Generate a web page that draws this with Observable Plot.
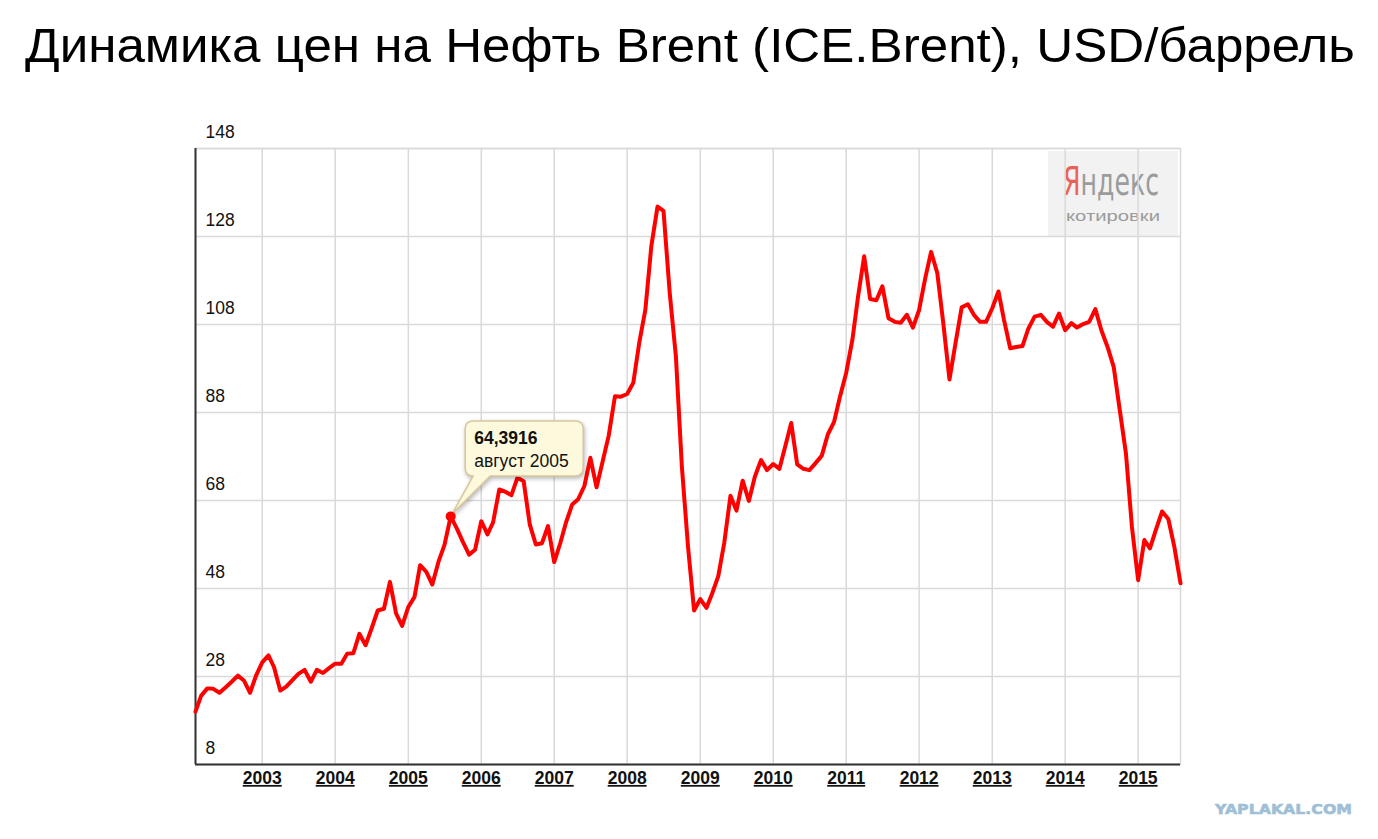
<!DOCTYPE html>
<html>
<head>
<meta charset="utf-8">
<script src="https://cdn.jsdelivr.net/npm/d3@7"></script>
<script src="https://cdn.jsdelivr.net/npm/@observablehq/plot@0.6"></script>
<style>
  html, body { margin: 0; padding: 0; background: #fff; }
  #page { position: relative; width: 1378px; height: 839px; overflow: hidden; background: #fff; }
  #title { position: absolute; left: 25px; top: 21px; margin: 0; font: 400 49px "Liberation Sans", Arial, sans-serif; line-height: 1; color: #000; white-space: nowrap; transform-origin: 0 0; }
  #chart { position: absolute; left: 0; top: 0; }
  #chart g[aria-label="x-axis tick label"] text { text-decoration: underline; }
</style>
</head>
<body>
<div id="page">
  <div id="chart"></div>
  <h1 id="title">Динамика цен на Нефть Brent (ICE.Brent), USD/баррель</h1>
</div>
<script>
// ---- data (monthly, USD per barrel), first month Feb 2002 ----
const startYear = 2002, startMonth = 1; // 0-based month: February
const p2002 = [20.0, 23.6, 25.3, 25.2, 24.3, 25.5, 26.8, 28.2, 27.1, 24.3, 28.2];
const p2003 = [31.2, 32.8, 30.1, 24.8, 25.7, 27.2, 28.6, 29.5, 26.8, 29.5, 28.8, 29.9];
const p2004 = [30.9, 30.9, 33.2, 33.3, 37.7, 35.1, 38.9, 43.0, 43.4, 49.5, 42.3, 39.5];
const p2005 = [43.8, 46.1, 53.3, 51.8, 48.9, 54.1, 57.9, 64.3916, 61.6, 58.6, 55.7, 56.8];
const p2006 = [63.3, 60.3, 63.0, 70.5, 70.0, 69.2, 73.2, 72.4, 62.5, 58.0, 58.3, 62.2];
const p2007 = [54.0, 58.4, 63.0, 67.1, 68.3, 71.3, 77.7, 71.0, 77.0, 82.8, 91.7, 91.6];
const p2008 = [92.2, 94.8, 103.7, 111.3, 125.8, 134.8, 133.8, 115.2, 100.7, 75.6, 57.3, 43.0];
const p2009 = [45.6, 43.6, 46.8, 50.8, 58.4, 69.1, 65.7, 72.5, 67.9, 73.4, 77.2, 74.9];
const p2010 = [76.3, 75.2, 80.1, 85.6, 76.2, 75.2, 74.9, 76.5, 78.2, 83.0, 85.8, 91.6];
const p2011 = [97.0, 104.5, 114.2, 123.5, 113.8, 113.5, 116.7, 109.4, 108.6, 108.4, 110.2, 107.3];
const p2012 = [111.3, 118.6, 124.5, 119.7, 108.3, 95.5, 103.7, 111.9, 112.6, 110.2, 108.6, 108.6];
const p2013 = [111.7, 115.5, 109.0, 102.6, 102.9, 103.1, 107.1, 109.8, 110.2, 108.6, 107.5, 110.5];
const p2014 = [106.7, 108.3, 107.3, 108.1, 108.6, 111.5, 106.7, 102.9, 98.3, 88.6, 78.7, 62.0];
const p2015 = [49.9, 59.0, 57.1, 61.5, 65.5, 63.8, 57.5, 49.2];

const yTicks = [8, 28, 48, 68, 88, 108, 128, 148];
const xTickYears = [2003, 2004, 2005, 2006, 2007, 2008, 2009, 2010, 2011, 2012, 2013, 2014, 2015];

const tipYear = 2005, tipMonth = 7; // August 2005
const tipValueText = "64,3916";
const tipDateText = "август 2005";

(function () {
// ---- build table ----
const prices = [].concat(p2002, p2003, p2004, p2005, p2006, p2007, p2008, p2009, p2010, p2011, p2012, p2013, p2014, p2015);
const data = prices.map((price, i) => ({date: new Date(Date.UTC(startYear, startMonth + i, 1)), price}));
const tipDate = new Date(Date.UTC(tipYear, tipMonth, 1));
const tipPoint = data.find(d => +d.date === +tipDate);
const yearTicks = xTickYears.map(y => new Date(Date.UTC(y, 0, 1)));

const gridColor = "#d9d9d9";

const chart = Plot.plot({
  width: 1378,
  height: 839,
  marginLeft: 195,
  marginRight: 198,
  marginTop: 148,
  marginBottom: 75,
  style: {fontFamily: "'Liberation Sans', Arial, sans-serif", background: "transparent", color: "#111"},
  x: {type: "utc", domain: [data[0].date, data[data.length - 1].date]},
  y: {domain: [8, 148]},
  marks: [
    Plot.gridY(yTicks, {stroke: gridColor, strokeOpacity: 1, strokeWidth: 1.5}),
    Plot.gridX(yearTicks, {stroke: gridColor, strokeOpacity: 1, strokeWidth: 1.5}),
    Plot.frame({stroke: gridColor, strokeWidth: 1.5}),
    Plot.axisY(yTicks, {tickSize: 0, tickPadding: 0, textAnchor: "start", dx: 10, dy: -16, fontSize: 17.5, label: null}),
    Plot.axisX(yearTicks, {tickSize: 0, tickPadding: 7, tickFormat: d => String(d.getUTCFullYear()), fontSize: 17.5, fontWeight: "bold", label: null}),
    Plot.ruleX([data[0].date], {stroke: "#333", strokeWidth: 2}),
    Plot.ruleY([8], {stroke: "#333", strokeWidth: 2}),
    Plot.line(data, {x: "date", y: "price", stroke: "#ff0000", strokeWidth: 4, strokeLinejoin: "round", strokeLinecap: "round"}),
    Plot.dot([tipPoint], {x: "date", y: "price", r: 5, fill: "#ff0000", stroke: "none"})
  ]
});
document.getElementById("chart").appendChild(chart);

const svg = d3.select(chart);
const NS = "http://www.w3.org/2000/svg";

// Yandex quotes logo box (behind the grid)
const firstG = chart.querySelector("g");
const logo = document.createElementNS(NS, "g");
chart.insertBefore(logo, firstG);
const lg = d3.select(logo).attr("text-anchor", "start");
const grad = lg.append("defs").append("linearGradient").attr("id", "yalogo")
  .attr("gradientUnits", "userSpaceOnUse").attr("x1", 1063).attr("x2", 1159).attr("y1", 0).attr("y2", 0);
grad.append("stop").attr("offset", 0.17).attr("stop-color", "#e8625a");
grad.append("stop").attr("offset", 0.17).attr("stop-color", "#9b9b9b");
lg.append("rect").attr("x", 1048).attr("y", 151).attr("width", 130).attr("height", 85).attr("fill", "#f2f2f2");
lg.append("text").attr("x", 1063).attr("y", 195)
  .attr("font-family", "'Liberation Sans Narrow', 'DejaVu Sans Condensed', 'Liberation Sans', sans-serif")
  .attr("font-size", 39).attr("fill", "url(#yalogo)")
  .attr("textLength", 96).attr("lengthAdjust", "spacingAndGlyphs").text("Яндекс");
lg.append("text").attr("x", 1066).attr("y", 221)
  .attr("font-family", "'Liberation Sans', sans-serif").attr("font-size", 14).attr("fill", "#9b9b9b")
  .attr("textLength", 94).attr("lengthAdjust", "spacingAndGlyphs").text("котировки");

// Tooltip callout anchored at the highlighted point via Plot's scales
const px = chart.scale("x").apply(tipPoint.date);
const py = chart.scale("y").apply(tipPoint.price);
const bl = px + 15, br = px + 133, bt = py - 95, bb = py - 40, r = 8;
const dotG = chart.querySelector('g[aria-label="dot"]');
const tipG = document.createElementNS(NS, "g");
chart.insertBefore(tipG, dotG);
const tg = d3.select(tipG).attr("text-anchor", "start");
const path = `M${bl + r},${bt} H${br - r} Q${br},${bt} ${br},${bt + r} V${bb - r} Q${br},${bb} ${br - r},${bb} H${px + 40} L${px + 2},${py - 2} L${px + 23},${bb} H${bl + r} Q${bl},${bb} ${bl},${bb - r} V${bt + r} Q${bl},${bt} ${bl + r},${bt} Z`;
tg.append("path").attr("d", path).attr("fill", "#fdf9dd").attr("stroke", "#d8c79c").attr("stroke-width", 1.5)
  .style("filter", "drop-shadow(1px 2px 2px rgba(0,0,0,0.28))");
tg.append("text").attr("x", bl + 9).attr("y", bt + 23).attr("font-size", 17.5).attr("font-weight", "bold").attr("fill", "#111").text(tipValueText);
tg.append("text").attr("x", bl + 9).attr("y", bt + 46).attr("font-size", 17.5).attr("fill", "#111").text(tipDateText);

// watermark
svg.append("text").attr("x", 1215).attr("y", 814).attr("text-anchor", "start")
  .attr("font-family", "'DejaVu Sans', sans-serif").attr("font-weight", "bold").attr("font-size", 13.5)
  .attr("fill", "#9fbfd6").attr("stroke", "#9fbfd6").attr("stroke-width", 0.6)
  .attr("textLength", 137).attr("lengthAdjust", "spacingAndGlyphs").text("YAPLAKAL.COM");

// fit title width to the reference
const title = document.getElementById("title");
const w = title.getBoundingClientRect().width;
title.style.transform = `scaleX(${1330 / w})`;
})();
</script>
</body>
</html>
